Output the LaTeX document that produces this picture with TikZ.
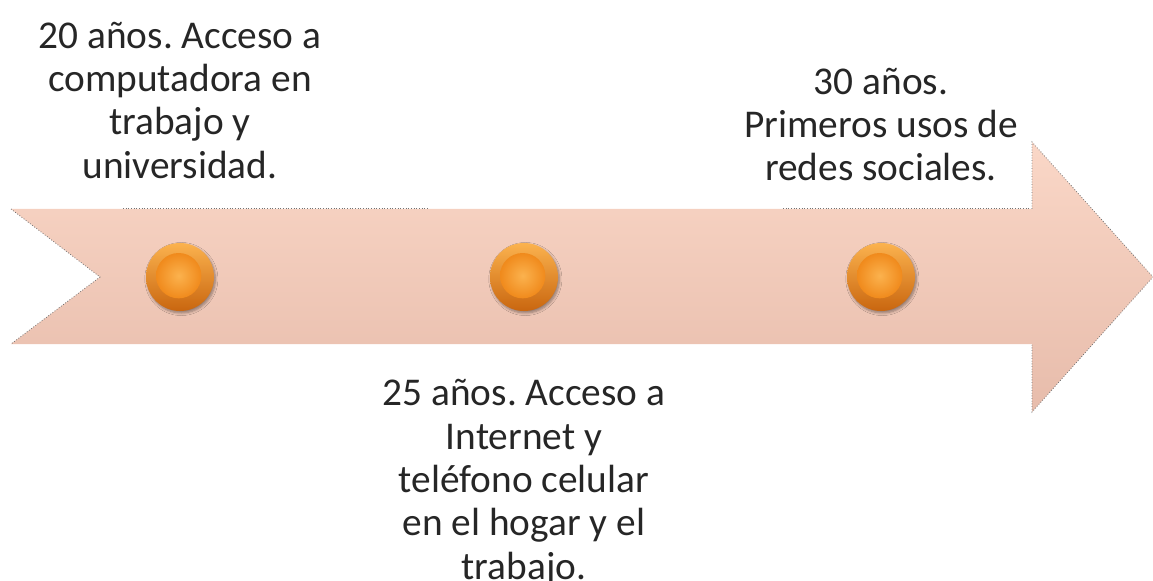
\documentclass[tikz,border=0pt]{standalone}
\usepackage{fontspec}
\setmainfont{Carlito}
\usetikzlibrary{positioning,shadows.blur}
\definecolor{arrtop}{HTML}{FAD7C7}
\definecolor{arrbot}{HTML}{E7BCAB}
\definecolor{dotorg}{HTML}{F08A1C}
\definecolor{dotdark}{HTML}{C9660F}
\definecolor{dotlite}{HTML}{FBB24E}
\frenchspacing

\begin{document}
\begin{tikzpicture}[
  x=0.75pt,y=-0.75pt,
  node distance=48pt,
  every node/.style={font=\fontsize{29.5}{32.5}\selectfont},
  T/.style={align=center,text=black!85,inner sep=0pt},
  D/.style={circle,minimum size=51pt,inner sep=0pt,
            top color=dotlite,bottom color=dotdark,
            blur shadow={shadow xshift=1pt,shadow yshift=-1.5pt,
                         shadow blur steps=6}},
  dl/.style={black!55,line width=0.6pt,dash pattern=on 0.6pt off 1.4pt}
]
\useasboundingbox (0,0) rectangle (1153,581);
% arrow
\shade[top color=arrtop,bottom color=arrbot]
  (11,209)--(1032,209)--(1032,142)--(1153,277)--(1032,412)
  --(1032,344)--(11,344)--(100,277)--cycle;
\draw[dl](11,209)--(100,277)--(11,344);
\draw[dl](1032,209)--(1032,142)--(1153,277)--(1032,412)--(1032,344);
\draw[dl](123,208)--(428,208);
\draw[dl](783,208)--(1031,208);

% dots
\node[D](P1) at (180,277){};
\node[D](P2) at (524,277){};
\node[D](P3) at (881,277){};
\foreach \p in {P1,P2,P3}
  \shade[inner color=dotlite,outer color=dotorg]
    ([xshift=-1pt,yshift=1pt]\p.center) circle[radius=17pt];

% labels
\node[T,above=of P1](L1){20 años. Acceso a\\computadora en\\trabajo y\\universidad.};
\node[T,above=46pt of P3](L3){30 años.\\Primeros usos de\\redes sociales.};
\node[T,below=51pt of P2](L2){25 años. Acceso a\\Internet y\\teléfono celular\\en el hogar y el\\trabajo.};
\end{tikzpicture}
\end{document}
